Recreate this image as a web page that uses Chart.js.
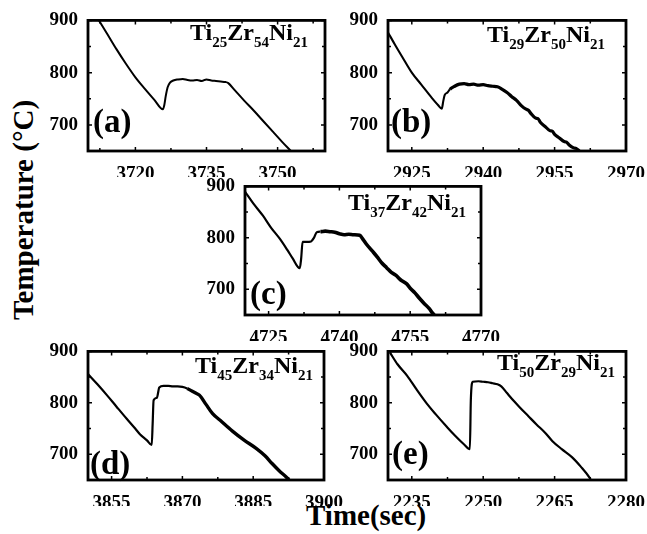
<!DOCTYPE html>
<html>
<head>
<meta charset="utf-8">
<script src="https://cdn.jsdelivr.net/npm/chart.js@4.4.1/dist/chart.umd.min.js"></script>
<style>
  body { margin: 0; background: #fff; }
  #page { position: relative; width: 647px; height: 534px; overflow: hidden; font-family: "Liberation Serif", "Times New Roman", serif; font-weight: bold; color: #000; }
  .panel { position: absolute; }
  .name { position: absolute; font-size: 24px; line-height: 1; white-space: nowrap; }
  .name sub { font-size: 15px; line-height: 0; vertical-align: -7px; }
  .tag { position: absolute; font-size: 33px; line-height: 1; }
  .axis { position: absolute; font-size: 29px; line-height: 1; white-space: nowrap; }
</style>
</head>
<body>
<div id="page">
  <div class="axis" id="ylab" style="left:23px; top:210px; transform: translate(-50%, -50%) rotate(-90deg);">Temperature (°C)</div>
  <div class="axis" style="left:306px; top:501px;">Time(sec)</div>
</div>
<script>
// (a) Ti25Zr54Ni21
const timeA = [3712.3, 3714, 3716, 3718, 3720, 3722, 3724, 3725.8, 3726.1, 3726.4, 3726.8, 3727.3, 3728, 3729, 3730, 3731, 3732, 3733, 3734, 3735, 3736, 3737, 3738, 3739, 3739.6, 3741, 3743, 3745, 3747, 3749, 3751, 3752.8]
const tempA = [900, 875, 845, 817, 791, 769, 748, 730, 738, 755, 772, 781, 785, 787, 788, 786, 785, 786, 784, 787, 785, 784, 783, 782, 780, 766, 746, 727, 707, 687, 667, 650]

// (b) Ti29Zr50Ni21
const timeB = [2920, 2921.5, 2923, 2925, 2927, 2929, 2930.5, 2931.3, 2931.6, 2931.9, 2932.5, 2933, 2934, 2935, 2936, 2937, 2938, 2939, 2940, 2941, 2942, 2943, 2944, 2945, 2946, 2947, 2948, 2949, 2949.5, 2950, 2951, 2951.5, 2952, 2953, 2954, 2954.5, 2955, 2956, 2957, 2957.5, 2958, 2959, 2959.5, 2960.2]
const tempB = [877, 853, 830, 800, 777, 754, 738, 731, 745, 757, 762, 768, 774, 778, 779, 777, 778, 776, 777, 775, 774, 773, 768, 762, 754, 747, 737, 730, 728, 722, 713, 712, 705, 697, 689, 688, 682, 675, 668, 667, 662, 656, 655, 650]

// (c) Ti37Zr42Ni21
const timeC = [4720, 4722, 4723.8, 4725.5, 4727.4, 4729, 4730.1, 4731.6, 4731.9, 4732.2, 4733, 4734, 4734.6, 4735.2, 4736, 4737, 4738, 4739, 4740, 4741, 4742, 4743, 4744.3, 4745, 4745.7, 4747, 4748, 4749, 4750, 4751, 4752, 4753, 4754.2, 4755, 4756, 4757, 4758, 4759, 4759.7, 4760.1]
const tempC = [890, 864, 843, 820, 798, 776, 760, 741, 760, 792, 792, 793, 800, 811, 812, 813, 812, 811, 808, 806, 807, 806, 805, 797, 788, 774, 763, 751, 742, 733, 727, 718, 711, 702, 693, 682, 672, 663, 654, 650]

// (d) Ti45Zr34Ni21
const timeD = [3850, 3852, 3854, 3856, 3858.2, 3860, 3861, 3862.5, 3863.5, 3863.7, 3863.9, 3864.6, 3865.1, 3866, 3867, 3868, 3869, 3870, 3871, 3872, 3873, 3873.6, 3875, 3876.4, 3878, 3880.6, 3883, 3885.7, 3887.5, 3889, 3890.5, 3892.2, 3892.6]
const tempD = [856, 836, 815, 793, 769, 750, 739, 727, 718, 760, 805, 810, 830, 833, 833, 832, 832, 831, 828, 823, 818, 815, 797, 779, 766, 745, 728, 711, 697, 682, 668, 654, 650]

// (e) Ti50Zr29Ni21
const timeE = [2230.4, 2232, 2234, 2236, 2238.2, 2240, 2242.3, 2244, 2246, 2247.2, 2247.4, 2247.8, 2249, 2250, 2251, 2252, 2253, 2253.8, 2255, 2256.5, 2257.6, 2259.5, 2261.2, 2263, 2264.5, 2266.5, 2268.7, 2270.5, 2272.3, 2272.6]
const tempE = [898, 875, 853, 826, 798, 778, 754, 737, 719, 710, 805, 841, 842, 841, 840, 838, 836, 832, 819, 803, 792, 774, 758, 742, 726, 710, 694, 676, 655, 650]

// x axis ticks per panel (labelled every 15 s)
const ticksA = [3712.5, 3720, 3727.5, 3735, 3742.5, 3750, 3757.5]
const ticksB = [2925, 2932.5, 2940, 2947.5, 2955, 2962.5, 2970]
const ticksC = [4725, 4732.5, 4740, 4747.5, 4755, 4762.5, 4770]
const ticksD = [3855, 3862.5, 3870, 3877.5, 3885, 3892.5, 3900]
const ticksE = [2235, 2242.5, 2250, 2257.5, 2265, 2272.5, 2280]

const xStarts = [3710, 2920, 4720, 3850, 2230]
const tempTicks = [650, 700, 750, 800, 850, 900]
const tags = ['(a)', '(b)', '(c)', '(d)', '(e)']
const names = [['25', '54', '21'], ['29', '50', '21'], ['37', '42', '21'], ['45', '34', '21'], ['50', '29', '21']]

const series = [[timeA, tempA], [timeB, tempB], [timeC, tempC], [timeD, tempD], [timeE, tempE]]
const xTickSets = [ticksA, ticksB, ticksC, ticksD, ticksE]

// plot boxes on the page: left, top, right, bottom
const boxes = [[88, 17, 325, 151], [388, 17, 627, 151], [245, 183, 482, 315], [88, 348, 325, 480], [388, 348, 627, 480]]
const lineWidths = [2, 2.1, 2.2, 2.2, 2.2]
// the noisy (fuzzy) part of the trace is drawn heavier
const noisyFrom = [Infinity, 2933, 4736, 3871, Infinity]
const noisyWidths = [2, 3.2, 3.6, 3.4, 2.2]
const namePos = [[190, 20], [487, 22], [348, 190], [195, 353], [497, 350]]
const tagPos = [[93, 105], [391, 105], [250, 277], [90, 447], [392, 437]]

const Y_W = 44, X_H = 26, PAD_T = 10, PAD_R = 22
const tickFont = { family: "'Liberation Serif', 'Times New Roman', serif", weight: 'bold', size: 19 }

// ticks drawn inside the frame, on all four sides
const frame = {
  id: 'frame',
  afterDraw(chart) {
    const { ctx, chartArea: a, scales } = chart
    ctx.save()
    ctx.strokeStyle = '#000'
    ctx.lineWidth = 1.5
    ctx.beginPath()
    scales.x.ticks.forEach(t => {
      const px = scales.x.getPixelForValue(t.value)
      const len = t.label !== '' ? 4 : 3
      ctx.moveTo(px, a.bottom); ctx.lineTo(px, a.bottom - len)
      ctx.moveTo(px, a.top); ctx.lineTo(px, a.top + len)
    })
    scales.y.ticks.forEach(t => {
      const py = scales.y.getPixelForValue(t.value)
      const len = t.label !== '' ? 4 : 3
      ctx.moveTo(a.left, py); ctx.lineTo(a.left + len, py)
      ctx.moveTo(a.right, py); ctx.lineTo(a.right - len, py)
    })
    ctx.stroke()
    ctx.lineWidth = 2.8
    ctx.strokeRect(a.left, a.top, a.right - a.left, a.bottom - a.top)
    ctx.restore()
  }
}

const page = document.getElementById('page')

function drawPanel(i) {
  const [times, temps] = series[i]
  const [L, T, R, B] = boxes[i]
  const x0 = xStarts[i]
  const holder = document.createElement('div')
  holder.className = 'panel'
  holder.style.left = (L - Y_W) + 'px'
  holder.style.top = (T - PAD_T) + 'px'
  const cv = document.createElement('canvas')
  cv.width = R - L + Y_W + PAD_R
  cv.height = B - T + PAD_T + X_H
  holder.appendChild(cv)
  page.appendChild(holder)

  new Chart(cv, {
    type: 'line',
    plugins: [frame],
    data: {
      datasets: [{
        data: times.map((t, k) => ({ x: t, y: temps[k] })),
        borderColor: '#000',
        borderWidth: lineWidths[i],
        segment: {
          borderWidth: c => (c.p0.parsed.x >= noisyFrom[i] ? noisyWidths[i] : lineWidths[i])
        },
        pointRadius: 0,
        cubicInterpolationMode: 'monotone',
        fill: false
      }]
    },
    options: {
      responsive: false,
      animation: false,
      events: [],
      layout: { padding: { left: 0, top: PAD_T, right: PAD_R, bottom: 0 } },
      plugins: { legend: { display: false }, tooltip: { enabled: false } },
      scales: {
        x: {
          type: 'linear',
          min: x0,
          max: x0 + 50,
          afterBuildTicks: axis => { axis.ticks = xTickSets[i].map(v => ({ value: v })) },
          afterFit: s => { s.height = X_H },
          grid: { display: false },
          border: { display: false },
          ticks: {
            padding: 4,
            maxRotation: 0,
            autoSkip: false,
            color: '#000',
            font: tickFont,
            callback: v => (v % 15 === 0 ? String(v) : '')
          }
        },
        y: {
          type: 'linear',
          min: 650,
          max: 900,
          afterBuildTicks: axis => { axis.ticks = tempTicks.map(v => ({ value: v })) },
          afterFit: s => { s.width = Y_W },
          grid: { display: false },
          border: { display: false },
          ticks: {
            padding: 2,
            autoSkip: false,
            color: '#000',
            font: tickFont,
            callback: v => (v % 100 === 0 ? String(v) : '')
          }
        }
      }
    }
  })

  const nm = document.createElement('div')
  nm.className = 'name'
  nm.style.left = namePos[i][0] + 'px'
  nm.style.top = namePos[i][1] + 'px'
  nm.innerHTML = 'Ti<sub>' + names[i][0] + '</sub>Zr<sub>' + names[i][1] + '</sub>Ni<sub>' + names[i][2] + '</sub>'
  page.appendChild(nm)

  const tg = document.createElement('div')
  tg.className = 'tag'
  tg.style.left = tagPos[i][0] + 'px'
  tg.style.top = tagPos[i][1] + 'px'
  tg.textContent = tags[i]
  page.appendChild(tg)
}

// make sure the serif face is ready before the canvases paint their labels
document.fonts.load("bold 19px 'Liberation Serif'").catch(() => {}).then(() => {
  series.forEach((s, i) => drawPanel(i))
})
</script>
</body>
</html>
